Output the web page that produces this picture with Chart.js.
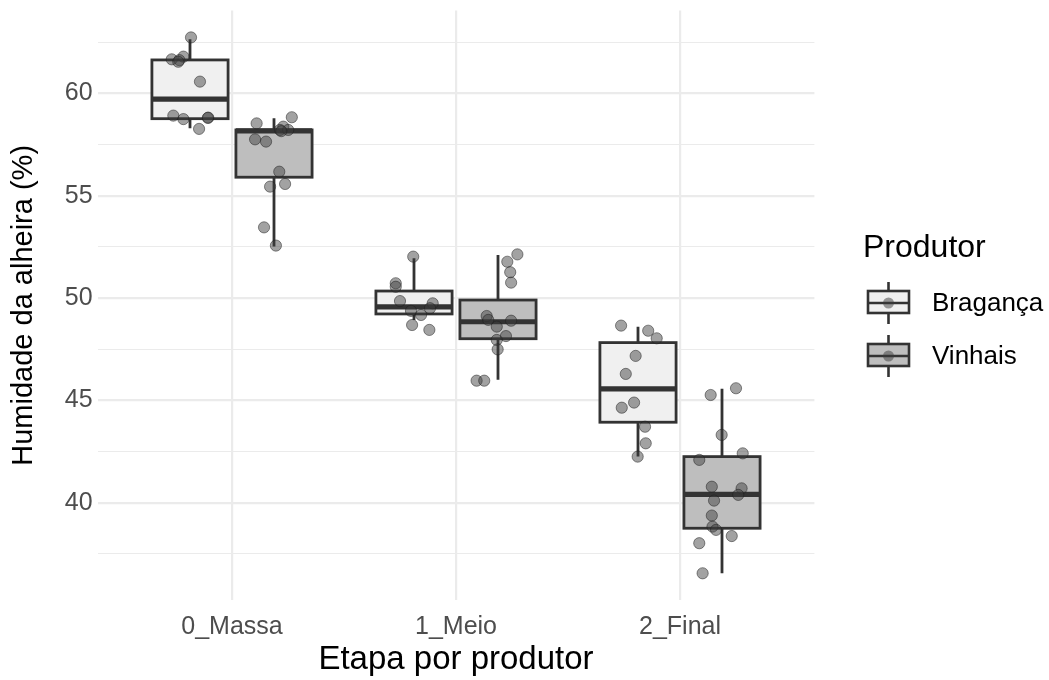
<!DOCTYPE html>
<html>
<head>
<meta charset="utf-8">
<script src="https://cdn.jsdelivr.net/npm/chart.js@4.4.0/dist/chart.umd.min.js"></script>
<style>
  body { margin: 0; background: #fff; }
  #wrap { width: 1049px; height: 680px; }
</style>
</head>
<body>
<div id="wrap"><canvas id="boxChart"></canvas></div>
<script>
// categories and producers
const categories = ['0_Massa', '1_Meio', '2_Final'];
const producers = ['Bragança', 'Vinhais'];
const yMajorTicks = [40, 45, 50, 55, 60];
const yMinorTicks = [37.5, 42.5, 47.5, 52.5, 57.5, 62.5];

// box stats (per category)
const bragQ1 = [58.76, 49.22, 43.93];
const bragMedian = [59.72, 49.57, 45.56];
const bragQ3 = [61.63, 50.34, 47.82];
const bragLow = [58.29, 48.93, 42.25];
const bragHigh = [62.64, 51.94, 48.60];

const vinhQ1 = [55.90, 48.01, 38.75];
const vinhMedian = [58.16, 48.84, 40.41];
const vinhQ3 = [58.21, 49.90, 42.25];
const vinhLow = [52.51, 46.00, 36.55];
const vinhHigh = [58.78, 52.10, 45.56];

// jittered observations: humidity values and horizontal jitter (category units)
const bragMassa = [62.73, 61.79, 61.66, 61.62, 61.54, 60.57, 58.91, 58.81, 58.80, 58.74, 58.26];
const bragMassaJit = [-0.183, -0.217, -0.269, -0.235, -0.240, -0.143, -0.262, -0.106, -0.108, -0.217, -0.147];
const bragMeio = [52.02, 50.72, 50.55, 49.85, 49.74, 49.50, 49.37, 49.17, 48.68, 48.44];
const bragMeioJit = [-0.191, -0.269, -0.269, -0.250, -0.104, -0.116, -0.201, -0.156, -0.196, -0.119];
const bragFinal = [48.65, 48.40, 48.03, 47.17, 46.29, 44.89, 44.64, 43.71, 42.90, 42.25];
const bragFinalJit = [-0.263, -0.142, -0.104, -0.198, -0.242, -0.205, -0.260, -0.156, -0.153, -0.189];

const vinhMassa = [58.83, 58.53, 58.37, 58.21, 58.21, 58.15, 57.75, 57.64, 56.17, 55.57, 55.44, 53.45, 52.56];
const vinhMassaJit = [0.267, 0.110, 0.229, 0.214, 0.251, 0.220, 0.103, 0.152, 0.211, 0.237, 0.170, 0.143, 0.196];
const vinhMeio = [52.13, 51.77, 51.26, 50.75, 49.12, 48.93, 48.89, 48.60, 48.14, 47.95, 47.49, 45.96, 45.96];
const vinhMeioJit = [0.274, 0.229, 0.242, 0.246, 0.137, 0.144, 0.246, 0.182, 0.223, 0.182, 0.186, 0.092, 0.126];
const vinhFinal = [45.59, 45.26, 43.31, 42.41, 42.09, 40.78, 40.70, 40.38, 40.10, 39.37, 38.83, 38.67, 38.37, 38.02, 36.55];
const vinhFinalJit = [0.250, 0.137, 0.186, 0.280, 0.086, 0.142, 0.275, 0.260, 0.152, 0.142, 0.145, 0.161, 0.231, 0.086, 0.101];

const fills = ['#F0F0F0', '#BEBEBE'];
const edge = '#333333';
const fontFamily = '"Liberation Sans", Arial, sans-serif';

function toPoints(groups, jitters) {
    const pts = [];
    groups.forEach((vals, i) => {
        vals.forEach((v, k) => pts.push({x: i + 1 + jitters[i][k], y: v}));
    });
    return pts;
}

const boxStats = [
    {q1: bragQ1, med: bragMedian, q3: bragQ3, lo: bragLow, hi: bragHigh, dodge: -0.1875},
    {q1: vinhQ1, med: vinhMedian, q3: vinhQ3, lo: vinhLow, hi: vinhHigh, dodge: 0.1875}
];

// draws the boxes under the points
const boxPlugin = {
    id: 'boxes',
    beforeDatasetsDraw(chart) {
        const ctx = chart.ctx;
        const xs = chart.scales.x, ys = chart.scales.y;
        const halfW = 0.17;
        ctx.save();
        boxStats.forEach((b, p) => {
            categories.forEach((c, i) => {
                const cx = xs.getPixelForValue(i + 1 + b.dodge);
                const x0 = xs.getPixelForValue(i + 1 + b.dodge - halfW);
                const x1 = xs.getPixelForValue(i + 1 + b.dodge + halfW);
                const yq1 = ys.getPixelForValue(b.q1[i]);
                const yq3 = ys.getPixelForValue(b.q3[i]);
                const ymed = ys.getPixelForValue(b.med[i]);
                ctx.strokeStyle = edge;
                ctx.lineWidth = 2.8;
                ctx.beginPath();
                ctx.moveTo(cx, ys.getPixelForValue(b.hi[i]));
                ctx.lineTo(cx, yq3);
                ctx.moveTo(cx, yq1);
                ctx.lineTo(cx, ys.getPixelForValue(b.lo[i]));
                ctx.stroke();
                ctx.fillStyle = fills[p];
                ctx.fillRect(x0, yq3, x1 - x0, yq1 - yq3);
                ctx.strokeRect(x0, yq3, x1 - x0, yq1 - yq3);
                ctx.lineWidth = 5.2;
                ctx.beginPath();
                ctx.moveTo(x0, ymed);
                ctx.lineTo(x1, ymed);
                ctx.stroke();
            });
        });
        ctx.restore();
    }
};

// ggplot-style legend on the right
const legendPlugin = {
    id: 'sideLegend',
    afterDraw(chart) {
        const ctx = chart.ctx;
        ctx.save();
        ctx.fillStyle = '#000';
        ctx.textBaseline = 'middle';
        ctx.font = '32px ' + fontFamily;
        ctx.fillText('Produtor', 863, 248);
        const centers = [302, 355];
        producers.forEach((name, p) => {
            const cy = centers[p];
            const x0 = 868, x1 = 909, cx = (x0 + x1) / 2;
            ctx.strokeStyle = edge;
            ctx.lineWidth = 2.6;
            ctx.beginPath();
            ctx.moveTo(cx, cy - 20);
            ctx.lineTo(cx, cy + 22);
            ctx.stroke();
            ctx.fillStyle = fills[p];
            ctx.fillRect(x0, cy - 11, x1 - x0, 22);
            ctx.strokeRect(x0, cy - 11, x1 - x0, 22);
            ctx.beginPath();
            ctx.moveTo(x0, cy + 1);
            ctx.lineTo(x1, cy + 1);
            ctx.stroke();
            ctx.beginPath();
            ctx.arc(cx, cy + 1, 5.5, 0, Math.PI * 2);
            ctx.fillStyle = 'rgba(60,60,60,0.5)';
            ctx.fill();
            ctx.fillStyle = '#000';
            ctx.font = '26px ' + fontFamily;
            ctx.fillText(name, 932, cy + 2);
        });
        ctx.restore();
    }
};

const pointStyle = {
    pointRadius: 5.6,
    pointHoverRadius: 5.6,
    backgroundColor: 'rgba(60,60,60,0.48)',
    borderColor: 'rgba(30,30,30,0.5)',
    borderWidth: 1
};

const ctx = document.getElementById('boxChart').getContext('2d');
const chart = new Chart(ctx, {
    type: 'scatter',
    data: {
        datasets: [
            Object.assign({label: producers[0], data: toPoints([bragMassa, bragMeio, bragFinal], [bragMassaJit, bragMeioJit, bragFinalJit])}, pointStyle),
            Object.assign({label: producers[1], data: toPoints([vinhMassa, vinhMeio, vinhFinal], [vinhMassaJit, vinhMeioJit, vinhFinalJit])}, pointStyle)
        ]
    },
    options: {
        responsive: true,
        maintainAspectRatio: false,
        animation: false,
        layout: { padding: { left: 0, right: 234.6, top: 10.6, bottom: 0 } },
        plugins: {
            legend: { display: false },
            tooltip: { enabled: false }
        },
        scales: {
            x: {
                type: 'linear',
                min: 0.4,
                max: 3.6,
                afterBuildTicks(scale) {
                    scale.ticks = categories.map((c, i) => ({value: i + 1}));
                },
                afterFit(scale) {
                    scale.height = 79.9;
                    scale.paddingLeft = 0;
                    scale.paddingRight = 0;
                },
                grid: { color: '#EBEBEB', lineWidth: 2.2, drawTicks: false },
                border: { display: false },
                ticks: {
                    padding: 12,
                    color: '#4D4D4D',
                    font: { family: fontFamily, size: 25 },
                    callback: (v) => categories[Math.round(v) - 1]
                },
                title: {
                    display: true,
                    text: 'Etapa por produtor',
                    color: '#000',
                    font: { family: fontFamily, size: 33 },
                    padding: { top: 0, bottom: 0 }
                }
            },
            y: {
                min: 35.24,
                max: 64.04,
                afterBuildTicks(scale) {
                    scale.ticks = yMinorTicks.concat(yMajorTicks).sort((a, b) => a - b).map(v => ({value: v}));
                },
                afterFit(scale) {
                    scale.width = 97.6;
                    scale.paddingTop = 0;
                    scale.paddingBottom = 0;
                },
                grid: {
                    color: '#EBEBEB',
                    drawTicks: false,
                    lineWidth: (c) => (c.tick && yMajorTicks.includes(c.tick.value)) ? 2.2 : 1.1
                },
                border: { display: false },
                ticks: {
                    padding: 5,
                    color: '#4D4D4D',
                    font: { family: fontFamily, size: 25 },
                    callback: (v) => yMajorTicks.includes(v) ? String(v) : ''
                },
                title: {
                    display: true,
                    text: 'Humidade da alheira (%)',
                    color: '#000',
                    font: { family: fontFamily, size: 29 },
                    padding: { top: 7, bottom: 0 }
                }
            }
        }
    },
    plugins: [boxPlugin, legendPlugin]
});
</script>
</body>
</html>
